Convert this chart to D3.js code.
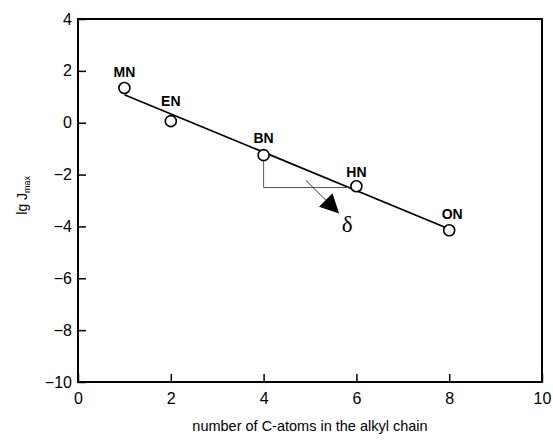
<!DOCTYPE html>
<html>
<head>
<meta charset="utf-8">
<script src="https://cdn.jsdelivr.net/npm/d3@7"></script>
<style>
  body { margin: 0; background: #fff; }
  text { font-family: "Liberation Sans", Arial, sans-serif; fill: #000; }
</style>
</head>
<body>
<div id="graph"></div>
<script>
// compounds and measured values
var names = ['MN', 'EN', 'BN', 'HN', 'ON']
var carbons = [1, 2, 4, 6, 8]
var lgJ = [1.34, 0.06, -1.25, -2.45, -4.15]

// fitted line end points
var fitX = [1, 8]
var fitY = [1.08, -4.1]

var xTicks = [0, 2, 4, 6, 8, 10]
var yTicks = [4, 2, 0, -2, -4, -6, -8, -10]

var width = 553, height = 441
var margin = {left: 78, right: 11, top: 19, bottom: 59}

var svg = d3.select('#graph').append('svg')
    .attr('width', width)
    .attr('height', height)

var x = d3.scaleLinear().domain([0, 10]).range([margin.left, width - margin.right])
var y = d3.scaleLinear().domain([-10, 4]).range([height - margin.bottom, margin.top])

// frame
svg.append('rect')
    .attr('x', x(0)).attr('y', y(4))
    .attr('width', x(10) - x(0)).attr('height', y(-10) - y(4))
    .attr('fill', 'none').attr('stroke', '#000').attr('stroke-width', 2)

// axes with inward ticks
var xAxis = svg.append('g')
    .attr('transform', 'translate(0,' + y(-10) + ')')
    .call(d3.axisBottom(x).tickValues(xTicks).tickSizeInner(-8).tickSizeOuter(0).tickPadding(11))
var yAxis = svg.append('g')
    .attr('transform', 'translate(' + x(0) + ',0)')
    .call(d3.axisLeft(y).tickValues(yTicks).tickSizeInner(-8).tickSizeOuter(0).tickPadding(6)
      .tickFormat(function(d){ return d < 0 ? '\u2212' + Math.abs(d) : d }))

;[xAxis, yAxis].forEach(function(a){
  a.select('.domain').remove()
  a.selectAll('line').attr('stroke', '#000').attr('stroke-width', 1.5)
  a.selectAll('text').style('font-size', '16px').style('font-family', '"Liberation Sans", Arial, sans-serif')
})

// fit line
svg.append('line')
    .attr('x1', x(fitX[0])).attr('y1', y(fitY[0]))
    .attr('x2', x(fitX[1])).attr('y2', y(fitY[1]))
    .attr('stroke', '#000').attr('stroke-width', 1.8)

// slope triangle
svg.append('path')
    .attr('d', 'M' + x(4) + ',' + y(-1.45) + ' L' + x(4) + ',' + y(-2.5) + ' L' + x(5.83) + ',' + y(-2.5))
    .attr('fill', 'none').attr('stroke', '#555').attr('stroke-width', 1)

// arrow for delta
svg.append('defs').append('marker')
    .attr('id', 'head')
    .attr('viewBox', '0 0 10 10')
    .attr('refX', 9).attr('refY', 5)
    .attr('markerWidth', 19).attr('markerHeight', 19)
    .attr('markerUnits', 'userSpaceOnUse')
    .attr('orient', 'auto')
  .append('path')
    .attr('d', 'M0,0 L10,5 L0,10 Z')
    .attr('fill', '#000')

svg.append('line')
    .attr('x1', x(4.91)).attr('y1', y(-2.22))
    .attr('x2', x(5.6)).attr('y2', y(-3.45))
    .attr('stroke', '#333').attr('stroke-width', 1)
    .attr('marker-end', 'url(#head)')

svg.append('text')
    .attr('x', x(5.8)).attr('y', y(-4.2))
    .attr('text-anchor', 'middle')
    .style('font-family', '"Liberation Serif", "Times New Roman", serif')
    .style('font-size', '23px')
    .text('\u03b4')

// points
svg.selectAll('circle.pt')
    .data(carbons)
  .enter().append('circle')
    .attr('class', 'pt')
    .attr('cx', function(d){ return x(d) })
    .attr('cy', function(d, i){ return y(lgJ[i]) })
    .attr('r', 5.5)
    .attr('fill', '#fff').attr('stroke', '#000').attr('stroke-width', 1.6)

var labelDy = [-11, -15, -12, -9, -11]
svg.selectAll('text.lbl')
    .data(names)
  .enter().append('text')
    .attr('class', 'lbl')
    .attr('x', function(d, i){ return x(carbons[i]) + (i == 4 ? 3 : 0) })
    .attr('y', function(d, i){ return y(lgJ[i]) + labelDy[i] })
    .attr('text-anchor', 'middle')
    .style('font-size', '14px')
    .style('font-weight', 'bold')
    .text(function(d){ return d })

// axis titles
svg.append('text')
    .attr('x', (x(0) + x(10)) / 2)
    .attr('y', 431)
    .attr('text-anchor', 'middle')
    .style('font-size', '14.5px')
    .text('number of C-atoms in the alkyl chain')

var yt = svg.append('text')
    .attr('transform', 'translate(27,' + y(-2.8) + ') rotate(-90)')
    .attr('text-anchor', 'middle')
    .style('font-size', '14px')
yt.append('tspan').text('lg J')
yt.append('tspan').attr('dy', 3).style('font-size', '9px').text('max')
</script>
</body>
</html>
